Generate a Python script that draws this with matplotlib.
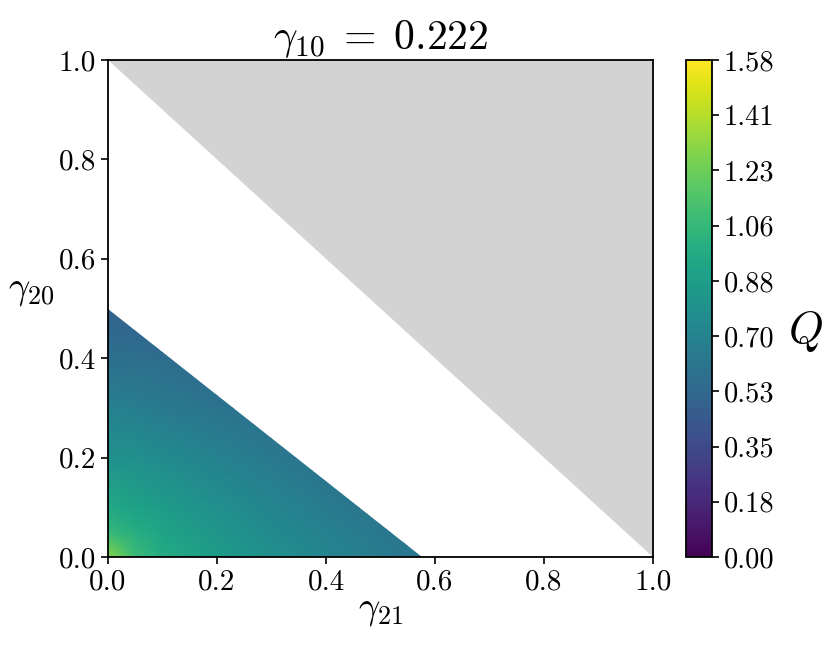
import numpy as np
import matplotlib
matplotlib.use('Agg')
import matplotlib.pyplot as plt
from matplotlib.patches import Polygon

plt.rcParams['font.family'] = 'serif'
plt.rcParams['font.serif'] = ['cmr10', 'DejaVu Serif']
plt.rcParams['mathtext.fontset'] = 'cm'
plt.rcParams['axes.unicode_minus'] = False

g21 = [0.0, 0.05, 0.1, 0.2, 0.3, 0.4, 0.5, 0.6]
g20 = [0.0, 0.05, 0.1, 0.2, 0.3, 0.4, 0.5]
Q = [
    [1.30, 1.08, 0.97, 0.87, 0.79, 0.72, 0.66, 0.61],
    [1.06, 0.99, 0.92, 0.83, 0.76, 0.69, 0.64, 0.59],
    [0.95, 0.91, 0.87, 0.79, 0.72, 0.66, 0.61, 0.57],
    [0.81, 0.79, 0.76, 0.70, 0.65, 0.60, 0.56, 0.53],
    [0.69, 0.67, 0.65, 0.61, 0.58, 0.55, 0.52, 0.50],
    [0.58, 0.57, 0.56, 0.53, 0.51, 0.49, 0.47, 0.46],
    [0.49, 0.49, 0.48, 0.47, 0.46, 0.45, 0.44, 0.43],
]
# edge of the valid region (intercepts on the axes)
edge_g21 = [0.0, 0.577]
edge_g20 = [0.5, 0.0]
# excluded region gamma21 + gamma20 > 1
excl_g21 = [0.0, 1.0, 1.0]
excl_g20 = [1.0, 1.0, 0.0]

qmax = 1.585
cticks = np.linspace(0, qmax, 10)

fig = plt.figure(figsize=(8.3, 6.64), dpi=100)
ax = fig.add_axes([108/830, 1 - 557/664, 545/830, 497/664])
cax = fig.add_axes([686/830, 1 - 557/664, 26/830, 497/664])

X, Y = np.meshgrid(g21, g20)
mesh = ax.pcolormesh(X, Y, np.array(Q), cmap='viridis', vmin=0, vmax=qmax,
                     shading='gouraud')
clip = Polygon([(0, 0), (edge_g21[0], edge_g20[0]), (edge_g21[1], edge_g20[1])],
               closed=True, transform=ax.transData)
mesh.set_clip_path(clip)

ax.fill(excl_g21, excl_g20, color='lightgray', lw=0)

ax.set_xlim(0, 1)
ax.set_ylim(0, 1)
ax.set_xticks([0, 0.2, 0.4, 0.6, 0.8, 1.0])
ax.set_yticks([0, 0.2, 0.4, 0.6, 0.8, 1.0])
ax.tick_params(labelsize=21, width=1.2, length=5)
for s in ax.spines.values():
    s.set_linewidth(1.3)
ax.set_xlabel(r'$\gamma_{21}$', fontsize=27, labelpad=0)
ax.set_ylabel(r'$\gamma_{20}$', fontsize=27, rotation=0, labelpad=20)
ax.set_title(r'$\gamma_{10}\;=\;0.222$', fontsize=30, pad=1)

cb = fig.colorbar(mesh, cax=cax)
cb.set_ticks(cticks)
cb.set_ticklabels(['%.2f' % t for t in cticks])
cb.ax.tick_params(labelsize=20.5, width=1.2, length=5)
cb.outline.set_linewidth(1.3)
cb.set_label(r'$Q$', fontsize=32, rotation=0, labelpad=22)

fig.savefig('out.png', dpi=100)
